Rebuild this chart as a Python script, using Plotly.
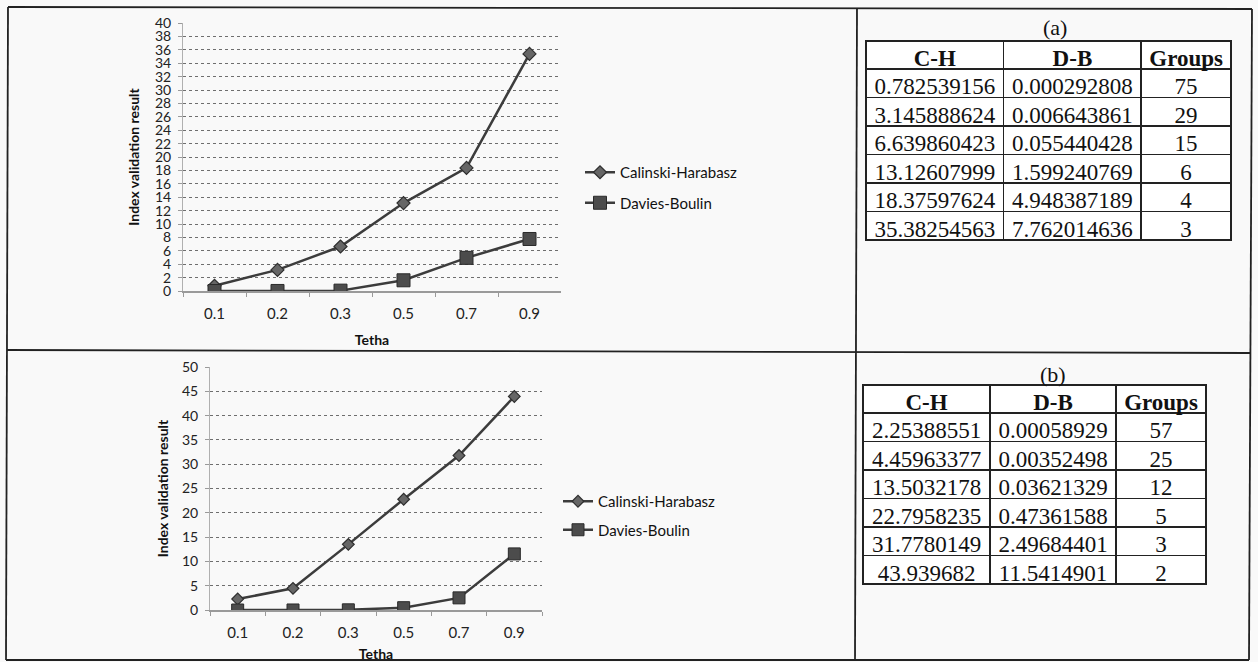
import plotly.graph_objects as go

W, H = 1258, 662

# ---------------- data ----------------
tetha = ["0.1", "0.2", "0.3", "0.5", "0.7", "0.9"]

ch_a = [0.782539156, 3.145888624, 6.639860423, 13.12607999, 18.37597624, 35.38254563]
db_a = [0.000292808, 0.006643861, 0.055440428, 1.599240769, 4.948387189, 7.762014636]
groups_a = [75, 29, 15, 6, 4, 3]
ch_a_txt = ["0.782539156", "3.145888624", "6.639860423", "13.12607999", "18.37597624", "35.38254563"]
db_a_txt = ["0.000292808", "0.006643861", "0.055440428", "1.599240769", "4.948387189", "7.762014636"]

ch_b = [2.25388551, 4.45963377, 13.5032178, 22.7958235, 31.7780149, 43.939682]
db_b = [0.00058929, 0.00352498, 0.03621329, 0.47361588, 2.49684401, 11.5414901]
groups_b = [57, 25, 12, 5, 3, 2]
ch_b_txt = ["2.25388551", "4.45963377", "13.5032178", "22.7958235", "31.7780149", "43.939682"]
db_b_txt = ["0.00058929", "0.00352498", "0.03621329", "0.47361588", "2.49684401", "11.5414901"]

table_header = ["C-H", "D-B", "Groups"]
series_names = ["Calinski-Harabasz", "Davies-Boulin"]
y_ticks_a = list(range(0, 41, 2))
y_ticks_b = list(range(0, 51, 5))


def px(x):
    return x / W


def py(y):
    return 1 - y / H


LINE = "#3c3c3c"
CHART_FONT = "Lato"
SERIF = "Liberation Serif"

fig = go.Figure()

# ---------------- line charts ----------------
for ch, db, xa, ya, leg, msz in [
    (ch_a, db_a, "x", "y", "legend", 13),
    (ch_b, db_b, "x2", "y2", "legend2", 12),
]:
    fig.add_trace(go.Scatter(
        x=tetha, y=ch, name=series_names[0], xaxis=xa, yaxis=ya, legend=leg,
        legendgroup=leg + "ch", mode="lines+markers",
        line=dict(color=LINE, width=2.5),
        marker=dict(symbol="diamond", size=msz - 3, color="#666666",
                    line=dict(color="#2e2e2e", width=1.2)),
    ))
    fig.add_trace(go.Scatter(
        x=tetha, y=db, name=series_names[1], xaxis=xa, yaxis=ya, legend=leg,
        legendgroup=leg + "db", mode="lines+markers",
        line=dict(color=LINE, width=2.5),
        marker=dict(symbol="square", size=msz, color="#4c4c4c",
                    line=dict(color="#2a2a2a", width=1)),
    ))

axis_common_x = dict(
    type="category", range=[-0.5, 5.5], showline=True, linecolor="#9a9a9a",
    linewidth=1.5, showgrid=False, ticks="outside", tickson="boundaries",
    ticklen=4, tickcolor="#9a9a9a", tickfont=dict(family=CHART_FONT, size=15, color="#222"),
    ticklabelstandoff=8, zeroline=False,
)
axis_common_y = dict(
    showline=True, linecolor="#b0b0b0", linewidth=1, showgrid=True,
    gridcolor="#6e6e6e", griddash="dot", gridwidth=1, ticks="outside",
    ticklen=4, tickcolor="#9a9a9a", zeroline=False,
    tickfont=dict(family=CHART_FONT, size=14, color="#222"),
    ticklabelstandoff=4,
)
title_font = dict(family=CHART_FONT, size=14, color="#111", weight="bold")

fig.update_layout(
    width=W, height=H, margin=dict(l=0, r=0, t=0, b=0, autoexpand=False),
    paper_bgcolor="#f9f9f9", plot_bgcolor="rgba(0,0,0,0)",
    xaxis=dict(axis_common_x, domain=[px(183), px(561)], anchor="y",
               title=dict(text="Tetha", font=title_font, standoff=14)),
    yaxis=dict(axis_common_y, domain=[py(291), py(23)], anchor="x", range=[0, 40],
               tickvals=y_ticks_a,
               title=dict(text="Index validation result", font=title_font, standoff=12)),
    xaxis2=dict(axis_common_x, domain=[px(210), px(542)], anchor="y2",
                title=dict(text="Tetha", font=title_font, standoff=9)),
    yaxis2=dict(axis_common_y, domain=[py(610), py(367)], anchor="x2", range=[0, 50],
                tickvals=y_ticks_b,
                title=dict(text="Index validation result", font=title_font, standoff=10)),
    legend=dict(x=px(580), y=py(156), xanchor="left", yanchor="top",
                bgcolor="rgba(0,0,0,0)", font=dict(family=CHART_FONT, size=15, color="#111"),
                tracegroupgap=8, traceorder="grouped", itemwidth=30),
    legend2=dict(x=px(558), y=py(485), xanchor="left", yanchor="top",
                 bgcolor="rgba(0,0,0,0)", font=dict(family=CHART_FONT, size=15, color="#111"),
                 tracegroupgap=6, traceorder="grouped", itemwidth=30),
    showlegend=True,
)

# ---------------- tables ----------------
def add_table(chs, dbs, grps, x0, x1, y0, y1, widths):
    fig.add_trace(go.Table(
        domain=dict(x=[px(x0), px(x1)], y=[py(y1), py(y0)]),
        columnwidth=widths,
        header=dict(values=table_header,
                    align="center", height=28,
                    font=dict(family=SERIF, size=23, color="#111", weight="bold"),
                    fill_color="white", line=dict(color="#222", width=1.6)),
        cells=dict(values=[chs, dbs, [str(g) for g in grps]],
                   align="center", height=28.5,
                   font=dict(family=SERIF, size=23, color="#111"),
                   fill_color="white", line=dict(color="#222", width=1.6)),
    ))


add_table(ch_a_txt, db_a_txt, groups_a, 866, 1232, 41, 250, [138, 138, 90])
add_table(ch_b_txt, db_b_txt, groups_b, 863, 1206, 385, 595, [127, 126, 90])

fig.add_annotation(x=px(1055), y=py(28), xref="paper", yref="paper", text="(a)",
                   xanchor="center", yanchor="middle",
                   showarrow=False, font=dict(family=SERIF, size=22, color="#111"))
fig.add_annotation(x=px(1053), y=py(374), xref="paper", yref="paper", text="(b)",
                   xanchor="center", yanchor="middle",
                   showarrow=False, font=dict(family=SERIF, size=22, color="#111"))

# ---------------- frame ----------------
frame = dict(type="line", xref="paper", yref="paper", line=dict(color="#222", width=1.8))
fig.add_shape(frame, x0=px(8), y0=py(7), x1=px(1252), y1=py(9))
fig.add_shape(frame, x0=px(8), y0=py(7), x1=px(6), y1=py(660))
fig.add_shape(frame, x0=px(6), y0=py(660), x1=px(1249), y1=py(660))
fig.add_shape(frame, x0=px(1252), y0=py(9), x1=px(1249), y1=py(660))
fig.add_shape(frame, x0=px(7), y0=py(350), x1=px(1250), y1=py(353))
fig.add_shape(frame, x0=px(857), y0=py(8), x1=px(855), y1=py(660))

fig.write_html("out.html", config={"displayModeBar": False},
               post_script="document.body.style.margin='0';")
